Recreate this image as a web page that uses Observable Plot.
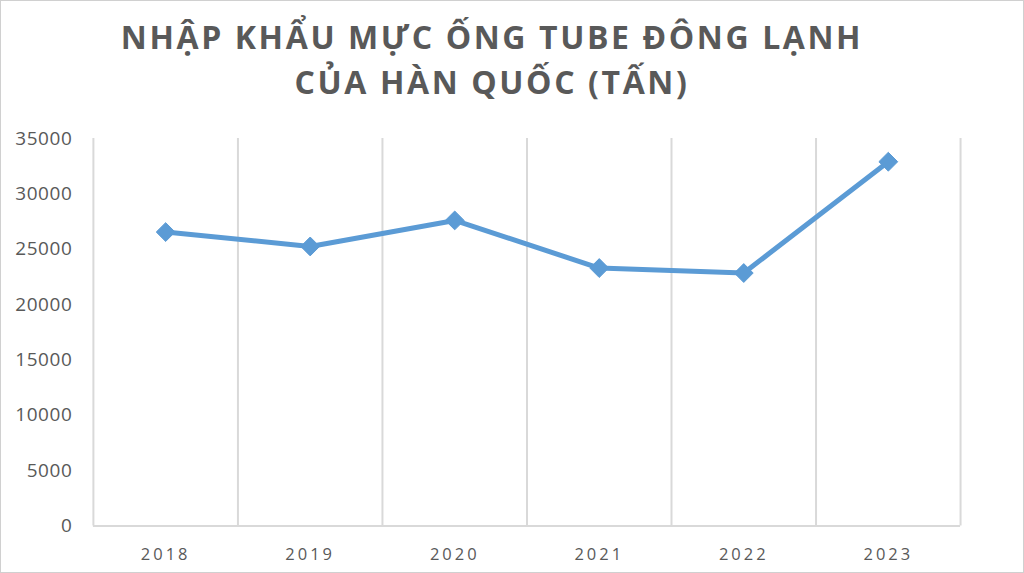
<!DOCTYPE html>
<html>
<head>
<meta charset="utf-8">
<script src="https://cdn.jsdelivr.net/npm/d3@7"></script>
<script src="https://cdn.jsdelivr.net/npm/@observablehq/plot@0.6"></script>
<style>
  html, body { margin: 0; padding: 0; background: #fff; }
  #frame { position: relative; width: 1022px; height: 571px; border: 1px solid #d0d0d0; background: #fff; overflow: hidden; }
  #title { position: absolute; left: 0; top: 13px; width: 982px; text-align: center;
           font-family: "Open Sans", sans-serif; font-weight: 700; font-size: 32px; line-height: 45px;
           letter-spacing: 2.6px; color: #595959; }
  #chart { position: absolute; left: -1px; top: 109px; }
</style>
</head>
<body>
<div id="frame">
  <div id="title">NHẬP KHẨU MỰC ỐNG TUBE ĐÔNG LẠNH<br>CỦA HÀN QUỐC (TẤN)</div>
  <div id="chart"></div>
</div>
<script>
const years = [2018, 2019, 2020, 2021, 2022, 2023];
const tonnes = [26550, 25250, 27600, 23300, 22850, 32900];
const yTicks = [0, 5000, 10000, 15000, 20000, 25000, 30000, 35000];

const data = years.map((y, i) => ({year: y, value: tonnes[i]}));
const bounds = years.map(y => y - 0.5).concat([years[years.length - 1] + 0.5]);

const chart = Plot.plot({
  width: 1024,
  height: 463,
  marginTop: 28,
  marginBottom: 47,
  marginLeft: 93,
  marginRight: 63,
  style: {fontFamily: "'Open Sans', sans-serif", color: "#595959", background: "transparent"},
  x: {domain: [bounds[0], bounds[bounds.length - 1]], axis: null},
  y: {domain: [0, 35000], axis: null},
  marks: [
    Plot.ruleX(bounds, {stroke: "#d9d9d9", strokeWidth: 2, strokeOpacity: 1}),
    Plot.ruleY([0], {stroke: "#d9d9d9", strokeWidth: 2}),
    Plot.axisY(yTicks, {tickSize: 0, tickPadding: 21, fontSize: 19, fill: "#595959", label: null, tickFormat: d => String(d)}),
    Plot.axisX(years, {tickSize: 0, tickPadding: 22, fontSize: 16.5, fill: "#595959", label: null, tickFormat: d => String(d)}),
    Plot.line(data, {x: "year", y: "value", stroke: "#5b9bd5", strokeWidth: 5}),
    Plot.dot(data, {x: "year", y: "value", symbol: "diamond2", r: 8.5, fill: "#5b9bd5", stroke: "#5b9bd5", strokeWidth: 1})
  ]
});
chart.querySelectorAll("g[aria-label='x-axis tick label'] text").forEach(t => t.setAttribute("letter-spacing", "3"));
chart.querySelectorAll("g[aria-label='y-axis tick label'] text").forEach(t => t.setAttribute("letter-spacing", "0.6"));
document.getElementById("chart").appendChild(chart);
</script>
</body>
</html>
